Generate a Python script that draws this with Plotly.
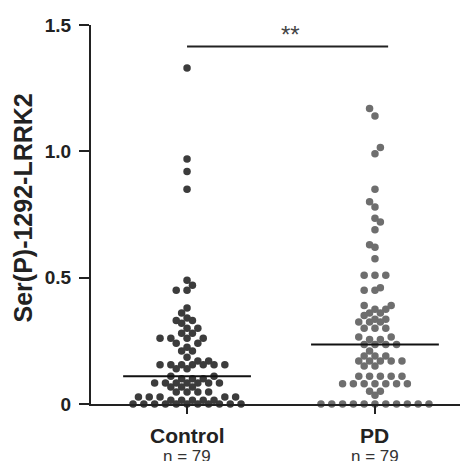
import numpy as np
import plotly.graph_objects as go

# ---------------- data ----------------
categories = ["Control", "PD"]
n_labels = ["n = 79", "n = 79"]
control_vals = ([1.33, 0.97, 0.92, 0.85,
                 0.49, 0.47, 0.45, 0.45,
                 0.38, 0.36,
                 0.34, 0.33, 0.33, 0.32,
                 0.30, 0.30, 0.28, 0.28,
                 0.26, 0.26, 0.26, 0.26,
                 0.24, 0.24, 0.225, 0.21, 0.21, 0.185, 0.17, 0.17]
                + [0.155] * 7 + [0.14, 0.14, 0.11, 0.11] + [0.10] * 3
                + [0.083] * 7 + [0.067] * 3 + [0.047] * 4 + [0.028] * 5
                + [0.015] * 5 + [0.0] * 11)
pd_vals = ([1.17, 1.14, 1.015, 0.99, 0.85, 0.80, 0.78, 0.735, 0.72, 0.69,
            0.63, 0.62, 0.575,
            0.51, 0.51, 0.51, 0.46, 0.45, 0.45,
            0.39, 0.39, 0.375, 0.375, 0.36, 0.36, 0.35,
            0.335, 0.335, 0.325, 0.325, 0.325,
            0.30, 0.30, 0.30, 0.265, 0.265, 0.255, 0.255]
           + [0.235] * 4 + [0.21] + [0.19] * 3 + [0.17] * 5 + [0.15] * 2
           + [0.11] * 5 + [0.08] * 7 + [0.05] * 2 + [0.035] + [0.0] * 11)
sig_label = "**"
sig_y = 1.415
y_tick_vals = [0, 0.5, 1.0, 1.5]
y_tick_text = ["0", "0.5", "1.0", "1.5"]
y_title = "Ser(P)-1292-LRRK2"
dot_colors = ["#3c3c3c", "#6e6e6e"]

# ---------------- layout constants ----------------
BODY = 8  # default page margin of the browser
W, H = 468 - BODY, 461 - BODY
ML, MR, MT, MB = 91 - BODY, 0, 25 - BODY, 57
x_range = [-0.511, 1.495]
y_range = [0, 1.5]
plot_w = W - ML - MR
plot_h = H - MT - MB
px_per_x = plot_w / (x_range[1] - x_range[0])
px_per_y = plot_h / (y_range[1] - y_range[0])
STEP = 10.8  # horizontal spacing of dots in one row (px)


def swarm_offsets(vals):
    """Grid beeswarm: returns x offsets (data units) for each value."""
    vals = np.asarray(vals, dtype=float)
    order = np.argsort(vals, kind="stable")
    placed = []
    offs = np.zeros(len(vals))
    flip = 1
    for idx in order:
        y = vals[idx] * px_per_y
        ks = [0]
        for k in range(1, 40):
            ks += [flip * k, -flip * k]
        for k in ks:
            x = k * STEP / 2
            ok = True
            for (px, py) in placed:
                dy = abs(y - py)
                dx = abs(x - px)
                if dy < 2.5 and dx < STEP - 0.1:
                    ok = False
                    break
                if dy < 8 and dx < STEP / 2 - 0.1:
                    ok = False
                    break
            if ok:
                placed.append((x, y))
                offs[idx] = x / px_per_x
                if k != 0:
                    flip = -flip
                break
    return offs


fig = go.Figure()
groups = [control_vals, pd_vals]
for gi, vals in enumerate(groups):
    offs = swarm_offsets(vals)
    fig.add_trace(go.Scatter(
        x=gi + offs, y=vals, mode="markers",
        marker=dict(size=7.5, color=dot_colors[gi], line=dict(width=0)),
        cliponaxis=False, showlegend=False, hoverinfo="y"))
    med = float(np.median(vals))
    fig.add_trace(go.Scatter(
        x=[gi - 0.34, gi + 0.34], y=[med, med], mode="lines",
        line=dict(color="#111111", width=2), showlegend=False,
        hoverinfo="skip"))

# significance bar
fig.add_trace(go.Scatter(x=[0, 1.07], y=[sig_y, sig_y], mode="lines",
                         line=dict(color="#222222", width=2),
                         showlegend=False, hoverinfo="skip", cliponaxis=False))

annotations = [
    dict(x=0.55, y=sig_y, xref="x", yref="y", text=sig_label, showarrow=False,
         yanchor="bottom", yshift=-4,
         font=dict(family="Liberation Sans", size=24, color="#444444")),
    dict(x=0, y=0.5, xref="paper", yref="paper", text="<b>" + y_title + "</b>",
         textangle=-90, showarrow=False, xanchor="center", yanchor="middle",
         xshift=-69, yshift=6,
         font=dict(family="Liberation Sans", size=25, color="#222222")),
]
for gi, (cat, nl) in enumerate(zip(categories, n_labels)):
    annotations.append(dict(x=gi, y=0, xref="x", yref="paper",
                            text="<b>" + cat + "</b>", showarrow=False,
                            yanchor="middle", yshift=-31,
                            font=dict(family="Liberation Sans", size=21,
                                      color="#222222")))
    annotations.append(dict(x=gi, y=0, xref="x", yref="paper", text=nl,
                            showarrow=False, yanchor="middle", yshift=-52,
                            font=dict(family="Liberation Sans", size=17,
                                      color="#333333")))

fig.update_layout(
    width=W, height=H,
    margin=dict(l=ML, r=MR, t=MT, b=MB, pad=0),
    paper_bgcolor="white", plot_bgcolor="white",
    showlegend=False,
    annotations=annotations,
    xaxis=dict(range=x_range, showgrid=False, zeroline=False,
               showline=True, linecolor="#222222", linewidth=2,
               tickvals=[0, 1], ticks="outside", ticklen=8, tickwidth=2,
               tickcolor="#222222", showticklabels=False, fixedrange=True),
    yaxis=dict(range=y_range, showgrid=False, zeroline=False,
               showline=True, linecolor="#222222", linewidth=2,
               tickvals=y_tick_vals, ticktext=y_tick_text,
               ticks="outside", ticklen=10, tickwidth=2, tickcolor="#222222",
               tickfont=dict(family="Liberation Sans", size=19, color="#222222",
                             weight="bold"),
               ticklabelstandoff=4, fixedrange=True),
)

fig.write_html("out.html")
